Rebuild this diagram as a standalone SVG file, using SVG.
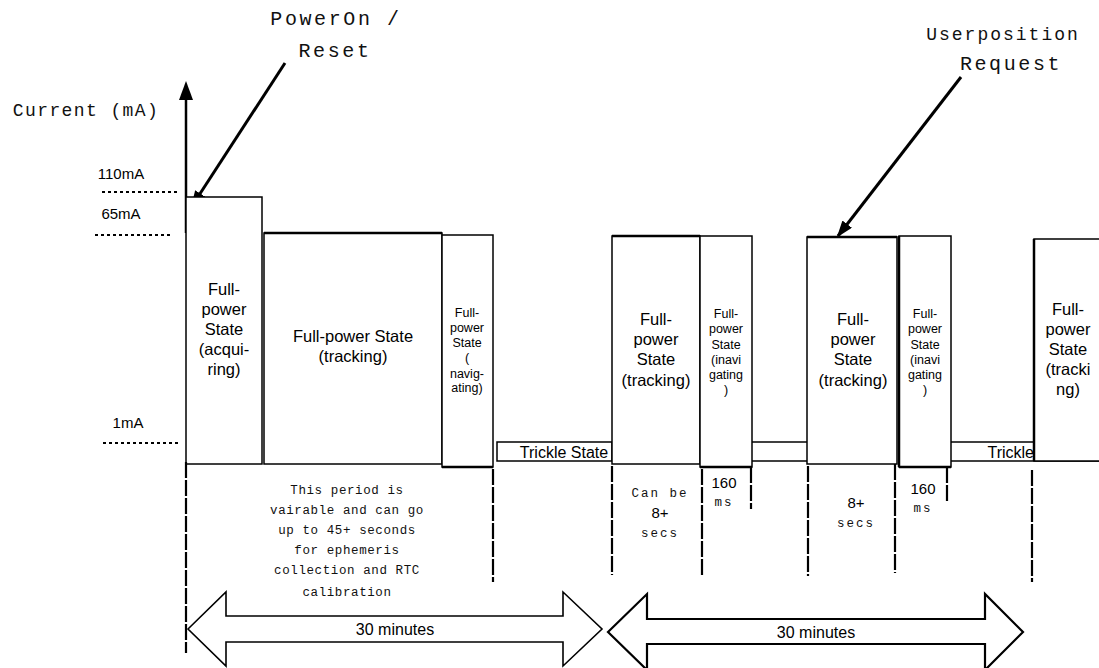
<svg xmlns="http://www.w3.org/2000/svg" width="1099" height="668" viewBox="0 0 1099 668">
<style>
.box{fill:#fff;stroke:#000;stroke-width:1.5}
.thick{stroke:#000;stroke-width:2.5;fill:none}
.ln{stroke:#000;stroke-width:1.5;fill:none}
.dot{stroke:#000;stroke-width:2;stroke-dasharray:3,3;fill:none}
.dv{stroke:#000;stroke-width:2.2;stroke-dasharray:16,2;fill:none}
.blk{fill:#fff;stroke:#000;stroke-width:1.6}
.sans{font-family:"Liberation Sans",Arial,sans-serif;fill:#000;text-anchor:middle}
.big{font-size:16.5px}
.sm{font-size:12.5px}
.mono{font-family:"Liberation Mono","DejaVu Sans Mono",monospace;fill:#111;text-anchor:middle}
.ann{font-size:20px;letter-spacing:2.6px}
.note{font-size:12.5px;letter-spacing:0.6px}
</style>
<defs>
<marker id="ah" markerUnits="userSpaceOnUse" markerWidth="18" markerHeight="14" refX="15" refY="6" orient="auto">
<path d="M0,0 L17,6 L0,12 z" fill="#000"/>
</marker>
</defs>

<g id="axis">
<line x1="186" y1="97" x2="186" y2="233" stroke="#000" stroke-width="2.5"/>
<path d="M186,81 L193,100 L179,100 z" fill="#000"/>
<text class="mono" x="86" y="116" style="font-size:18px;letter-spacing:1.4px">Current (mA)</text>
</g>

<g id="levels">
<line class="dot" x1="102" y1="192" x2="180" y2="192"/>
<line class="dot" x1="95" y1="235" x2="172" y2="235"/>
<line class="dot" x1="103" y1="443" x2="181" y2="443"/>
<text class="sans" x="121" y="179" style="font-size:15px">110mA</text>
<text class="sans" x="121" y="219" style="font-size:15px">65mA</text>
<text class="sans" x="128" y="428" style="font-size:15px">1mA</text>
</g>

<g id="annotations">
<text class="mono ann" x="336" y="25">PowerOn /</text>
<text class="mono ann" x="335" y="57">Reset</text>
<line x1="285" y1="63" x2="192" y2="206" stroke="#000" stroke-width="3" marker-end="url(#ah)"/>
<text class="mono" x="1003" y="40" style="font-size:18px;letter-spacing:2px">Userposition</text>
<text class="mono ann" x="1011" y="70">Request</text>
<line x1="961" y1="77" x2="838" y2="236" stroke="#000" stroke-width="3" marker-end="url(#ah)"/>
</g>

<g id="box-acquiring">
<rect class="box" x="186" y="197" width="76" height="267"/>
<text class="sans big" x="224" y="295">Full-</text>
<text class="sans big" x="224" y="315">power</text>
<text class="sans big" x="224" y="335">State</text>
<text class="sans big" x="224" y="355">(acqui-</text>
<text class="sans big" x="224" y="375">ring)</text>
</g>

<g id="box-tracking1">
<rect class="box" x="264" y="233" width="178" height="231"/>
<line class="thick" x1="264" y1="233" x2="442" y2="233"/>
<text class="sans big" x="353" y="342">Full-power State</text>
<text class="sans big" x="353" y="362">(tracking)</text>
</g>

<g id="box-navigating1">
<rect class="box" x="442" y="235" width="51" height="232"/>
<line class="thick" x1="442" y1="467" x2="493" y2="467"/>
<text class="sans sm" x="467" y="317">Full-</text>
<text class="sans sm" x="467" y="332">power</text>
<text class="sans sm" x="467" y="347">State</text>
<text class="sans sm" x="467" y="362">(</text>
<text class="sans sm" x="467" y="378">navig-</text>
<text class="sans sm" x="467" y="392">ating)</text>
</g>

<g id="trickle1">
<rect class="box" x="497" y="442" width="115" height="19"/>
<text class="sans" x="564" y="458" style="font-size:16px">Trickle State</text>
</g>

<g id="box-tracking2">
<rect class="box" x="612" y="236" width="88" height="228"/>
<line class="thick" x1="612" y1="236" x2="700" y2="236"/>
<text class="sans big" x="656" y="325">Full-</text>
<text class="sans big" x="656" y="345">power</text>
<text class="sans big" x="656" y="365">State</text>
<text class="sans big" x="656" y="386">(tracking)</text>
</g>

<g id="box-navigating2">
<rect class="box" x="700" y="236" width="52" height="231"/>
<line class="thick" x1="700" y1="467" x2="752" y2="467"/>
<text class="sans sm" x="726" y="318">Full-</text>
<text class="sans sm" x="726" y="333">power</text>
<text class="sans sm" x="726" y="349">State</text>
<text class="sans sm" x="726" y="364">(inavi</text>
<text class="sans sm" x="726" y="379">gating</text>
<text class="sans sm" x="726" y="394">)</text>
</g>

<g id="trickle2">
<line class="ln" x1="752" y1="442" x2="807" y2="442"/>
<line class="ln" x1="752" y1="461" x2="807" y2="461"/>
</g>

<g id="box-tracking3">
<rect class="box" x="807" y="237" width="90" height="227"/>
<line class="thick" x1="807" y1="237" x2="897" y2="237"/>
<text class="sans big" x="853" y="325">Full-</text>
<text class="sans big" x="853" y="345">power</text>
<text class="sans big" x="853" y="365">State</text>
<text class="sans big" x="853" y="386">(tracking)</text>
</g>

<g id="box-navigating3">
<rect class="box" x="899" y="236" width="52" height="231"/>
<line class="thick" x1="899" y1="236" x2="899" y2="467"/>
<line class="thick" x1="899" y1="467" x2="951" y2="467"/>
<text class="sans sm" x="925" y="318">Full-</text>
<text class="sans sm" x="925" y="333">power</text>
<text class="sans sm" x="925" y="349">State</text>
<text class="sans sm" x="925" y="364">(inavi</text>
<text class="sans sm" x="925" y="379">gating</text>
<text class="sans sm" x="925" y="394">)</text>
</g>

<g id="trickle3">
<line class="ln" x1="951" y1="442" x2="1034" y2="442"/>
<line class="ln" x1="951" y1="461" x2="1099" y2="461"/>
<text class="sans" x="1034" y="458" style="font-size:16px;text-anchor:end">Trickle</text>
</g>

<g id="box-tracking4">
<rect class="box" x="1034" y="239" width="80" height="222"/>
<line class="thick" x1="1034" y1="239" x2="1034" y2="461"/>
<text class="sans big" x="1068" y="315">Full-</text>
<text class="sans big" x="1068" y="335">power</text>
<text class="sans big" x="1068" y="355">State</text>
<text class="sans big" x="1068" y="375">(tracki</text>
<text class="sans big" x="1068" y="395">ng)</text>
</g>

<g id="connectors">
<line class="dv" x1="186" y1="462" x2="186" y2="653"/>
<line class="dv" x1="493" y1="469" x2="493" y2="582"/>
<line class="dv" x1="612" y1="466" x2="612" y2="575"/>
<line class="dv" x1="702" y1="469" x2="702" y2="577"/>
<line class="dv" x1="751" y1="467" x2="751" y2="509"/>
<line class="dv" x1="808" y1="466" x2="808" y2="576"/>
<line class="dv" x1="895" y1="464" x2="895" y2="573"/>
<line class="dv" x1="947" y1="467" x2="947" y2="503"/>
<line class="dv" x1="1032" y1="470" x2="1032" y2="582"/>
</g>

<g id="notes">
<text class="mono note" x="347" y="494">This period is</text>
<text class="mono note" x="347" y="514">vairable and can go</text>
<text class="mono note" x="347" y="534">up to 45+ seconds</text>
<text class="mono note" x="347" y="554">for ephemeris</text>
<text class="mono note" x="347" y="574">collection and RTC</text>
<text class="mono note" x="347" y="596">calibration</text>
<text class="mono note" x="660" y="497" style="letter-spacing:2px">Can be</text>
<text class="sans" x="660" y="518" style="font-size:15px">8+</text>
<text class="mono note" x="660" y="537" style="letter-spacing:2px">secs</text>
<text class="sans" x="724" y="488" style="font-size:15px">160</text>
<text class="mono note" x="724" y="506" style="letter-spacing:2px">ms</text>
<text class="sans" x="856" y="508" style="font-size:15px">8+</text>
<text class="mono note" x="856" y="527" style="letter-spacing:2px">secs</text>
<text class="sans" x="923" y="494" style="font-size:15px">160</text>
<text class="mono note" x="923" y="512" style="letter-spacing:2px">ms</text>
</g>

<g id="period1">
<polygon class="blk" points="188,629 226,592 226,616 563,616 563,592 602,629 563,666 563,642 226,642 226,666"/>
<text class="sans" x="395" y="635" style="font-size:16px">30 minutes</text>
</g>

<g id="period2">
<polygon class="blk" style="stroke-width:2.2" points="608,632 647,594 647,619 985,619 985,594 1023,632 985,670 985,644 647,644 647,670"/>
<text class="sans" x="816" y="638" style="font-size:16px">30 minutes</text>
</g>
</svg>
